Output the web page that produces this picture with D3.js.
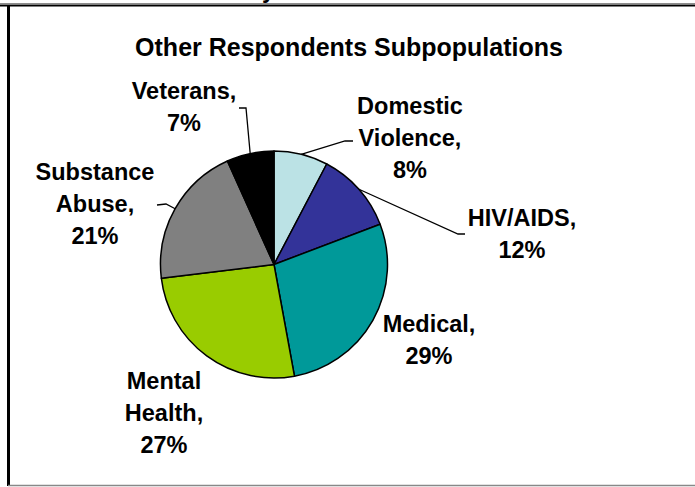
<!DOCTYPE html>
<html>
<head>
<meta charset="utf-8">
<script src="https://cdn.jsdelivr.net/npm/d3@7"></script>
<style>
  html, body { margin: 0; padding: 0; background: #fff; }
  svg { display: block; font-family: "Liberation Sans", Arial, sans-serif; }
</style>
</head>
<body>
<svg id="chart" width="695" height="487"></svg>
<script>
// ---- data ----
const categories = ["Domestic Violence", "HIV/AIDS", "Medical", "Mental Health", "Substance Abuse", "Veterans"];
const values = [8, 12, 29, 27, 21, 7];
const labelLines = [
  ["Domestic", "Violence,", "8%"],
  ["HIV/AIDS,", "12%"],
  ["Medical,", "29%"],
  ["Mental", "Health,", "27%"],
  ["Substance", "Abuse,", "21%"],
  ["Veterans,", "7%"]
];
const colors = ["#BBE2E5", "#333399", "#009999", "#99CC00", "#808080", "#000000"];
const title = "Other Respondents Subpopulations";

// ---- layout (positions kept separate from data) ----
const W = 695, H = 487;
const cx = 274, cy = 264.5, R = 113.5;
const lineGap = 32;
// label block: x centre, baseline of first line; leader: elbow points (null = no leader)
const labelLayout = [
  { x: 410, y: 114, leader: [[353, 141], [345, 141]] },
  { x: 522, y: 226, leader: [[465, 234], [458, 234]] },
  { x: 429, y: 332, leader: null },
  { x: 164, y: 389, leader: null },
  { x: 95,  y: 180, leader: [[157, 205], [166, 204]] },
  { x: 184, y: 99,  leader: [[239, 108], [246, 108]] }
];

const svg = d3.select("#chart");

// cut-off text fragment above the frame
svg.append("text").attr("x", 262).attr("y", -2)
  .attr("font-weight", "bold").attr("font-size", 23).text("y");

// frame
svg.append("line").attr("x1", 0).attr("x2", W).attr("y1", 3.5).attr("y2", 3.5)
  .attr("stroke", "#8c8c8c").attr("stroke-width", 1);
svg.append("line").attr("x1", 0).attr("x2", W).attr("y1", 5.5).attr("y2", 5.5)
  .attr("stroke", "#000").attr("stroke-width", 2);
svg.append("line").attr("x1", 8.5).attr("x2", 8.5).attr("y1", 6).attr("y2", 486)
  .attr("stroke", "#000").attr("stroke-width", 3);
svg.append("line").attr("x1", 8).attr("x2", W).attr("y1", 485.5).attr("y2", 485.5)
  .attr("stroke", "#888").attr("stroke-width", 1.5);

// title
svg.append("text").attr("x", 349).attr("y", 56)
  .attr("text-anchor", "middle").attr("font-weight", "bold").attr("font-size", 25)
  .text(title);

// pie
const pie = d3.pie().sort(null).value(d => d)(values);
const arc = d3.arc().innerRadius(0).outerRadius(R);
const g = svg.append("g").attr("transform", `translate(${cx},${cy})`);
g.selectAll("path").data(pie).join("path")
  .attr("d", arc)
  .attr("fill", (d, i) => colors[i])
  .attr("stroke", "#000").attr("stroke-width", 1.5).attr("stroke-linejoin", "round");

// leaders
pie.forEach((d, i) => {
  const L = labelLayout[i];
  if (!L.leader) return;
  const a = (d.startAngle + d.endAngle) / 2;
  const edge = [cx + R * Math.sin(a), cy - R * Math.cos(a)];
  const pts = [...L.leader, edge];
  svg.append("path")
    .attr("d", d3.line()(pts))
    .attr("fill", "none").attr("stroke", "#000").attr("stroke-width", 1.3);
});

// labels
labelLines.forEach((lines, i) => {
  const L = labelLayout[i];
  const t = svg.append("text").attr("text-anchor", "middle")
    .attr("font-weight", "bold").attr("font-size", 23.5);
  lines.forEach((s, j) => {
    t.append("tspan").attr("x", L.x).attr("y", L.y + j * lineGap).text(s);
  });
});
</script>
</body>
</html>
